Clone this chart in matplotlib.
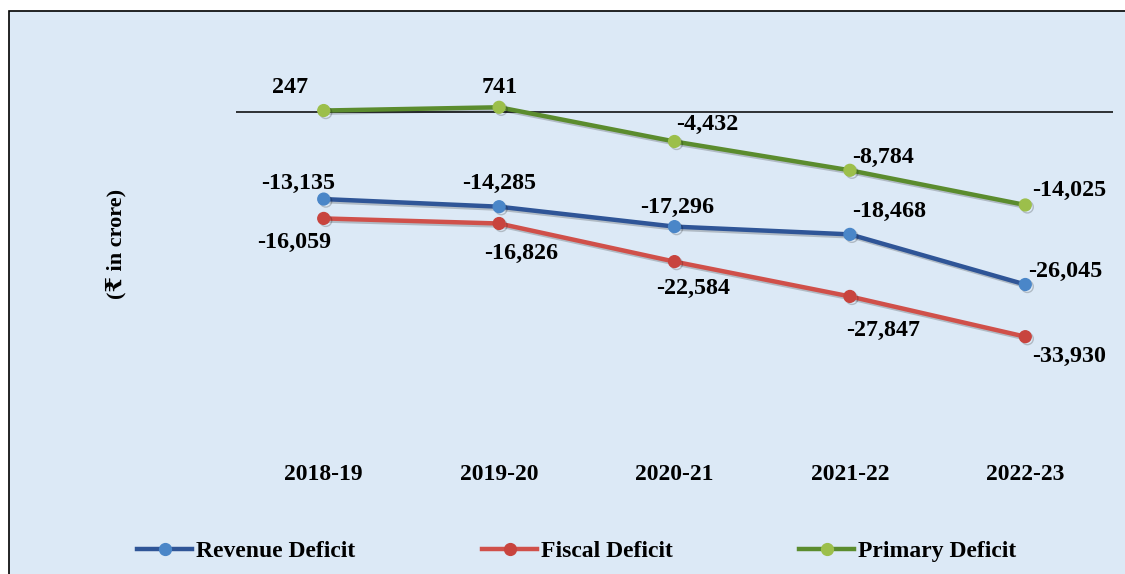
import matplotlib
matplotlib.use("Agg")
import matplotlib.pyplot as plt
import matplotlib.patheffects as pe
from matplotlib.patches import Rectangle
from matplotlib.lines import Line2D

years = ["2018-19", "2019-20", "2020-21", "2021-22", "2022-23"]
revenue = [-13135, -14285, -17296, -18468, -26045]
fiscal = [-16059, -16826, -22584, -27847, -33930]
primary = [247, 741, -4432, -8784, -14025]

# label offsets in pixels (dx, dy), picked by eye
rev_off = [(-26, 16), (0, 23), (3, 19), (39, 23), (40, 13)]
fis_off = [(-30, -24), (22, -30), (19, -27), (33, -34), (44, -20)]
pri_off = [(-34, 23), (1, 20), (33, 17), (33, 13), (44, 15)]

plt.rcParams['font.family'] = ['Liberation Serif', 'DejaVu Serif', 'DejaVu Sans']
plt.rcParams['font.weight'] = 'bold'

W, H = 1125, 574
fig = plt.figure(figsize=(W / 100, H / 100), dpi=100, facecolor="white")
bg = Rectangle((9 / W, -0.05), 1.1, 1 - 11 / H + 0.05, transform=fig.transFigure,
               facecolor="#DCE9F6", edgecolor="black", linewidth=1.2, zorder=-10)
fig.patches.append(bg)

ax = fig.add_axes([236 / W, 1 - 443 / H, (1113 - 236) / W, (443 - 46) / H])
ax.set_facecolor("none")
for s in ax.spines.values():
    s.set_visible(False)

x = list(range(len(years)))
ax.set_xlim(-0.5, len(years) - 0.5)
ax.set_ylim(-50000, 10000)
ax.axhline(0, color="black", lw=1.1, zorder=1)

shadow = [pe.SimpleLineShadow(offset=(1.5, -1.5), alpha=0.2), pe.Normal()]
series = [
    (revenue, "#2F5597", "#4A86C8", "Revenue Deficit", rev_off),
    (fiscal, "#D0504A", "#C8443E", "Fiscal Deficit", fis_off),
    (primary, "#5B8C2E", "#9CBF4B", "Primary Deficit", pri_off),
]
handles = []
for vals, lc, mc, name, offs in series:
    ln, = ax.plot(x, vals, color=lc, lw=3.2, marker="o", markersize=8.5,
                  markerfacecolor=mc, markeredgecolor=mc, zorder=3,
                  path_effects=shadow, label=name)
    handles.append(ln)
    for xi, v, (dx, dy) in zip(x, vals, offs):
        ax.annotate(f"{v:,}", (xi, v), xytext=(dx, dy), textcoords="offset pixels",
                    ha="center", va="center", fontsize=17.3, fontweight="bold")

ax.set_xticks(x)
ax.set_xticklabels(years, fontsize=17, fontweight="bold")
ax.tick_params(axis="x", length=0, pad=15)
ax.set_yticks([])

fig.text(116 / W, 1 - 244 / H, "(₹ in crore)", rotation=90, ha="center", va="center",
         fontsize=16, fontweight="bold")

leg_x = [137, 482, 799]
for h, lx in zip(handles, leg_x):
    proxy = Line2D([], [], color=h.get_color(), lw=3.2, marker="o", markersize=8.5,
                   markerfacecolor=h.get_markerfacecolor(),
                   markeredgecolor=h.get_markeredgecolor())
    lg = fig.legend([proxy], [h.get_label()], loc="center left",
                    bbox_to_anchor=(lx / W, 1 - 551 / H), frameon=False,
                    fontsize=17, handlelength=2.35, handletextpad=0.15,
                    borderpad=0, borderaxespad=0)
    for t in lg.get_texts():
        t.set_fontweight("bold")

fig.savefig("out.png", dpi=100, facecolor="white")
